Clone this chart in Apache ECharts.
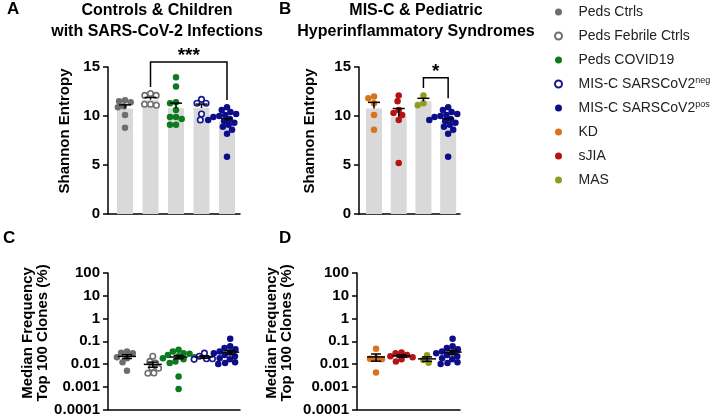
<!DOCTYPE html>
<html>
<head>
<meta charset="utf-8">
<script src="https://cdn.jsdelivr.net/npm/echarts@6/dist/echarts.min.js"></script>
<style>
  html, body { margin: 0; padding: 0; background: #fff; }
  #chart { width: 711px; height: 417px; }
</style>
</head>
<body>
<div id="chart"></div>
<script>
// ---------------- DATA ----------------
const groupNames = ['Peds Ctrls', 'Peds Febrile Ctrls', 'Peds COVID19', 'MIS-C SARSCoV2neg', 'MIS-C SARSCoV2pos', 'KD', 'sJIA', 'MAS'];

// Shannon entropy (panels A, B)
const pedsCtrlsSE   = [11.6, 11.5, 11.4, 11.0, 10.9, 10.1, 8.8];
const febrileSE     = [12.3, 12.1, 12.1, 11.2, 11.2, 11.1];
const covidSE       = [13.95, 13.0, 11.4, 11.3, 10.6, 9.9, 9.9, 9.7, 9.1, 9.1];
const miscNegSE     = [11.7, 11.3, 11.3, 10.2, 9.6];
const miscPosSE     = [10.9, 10.6, 10.4, 10.2, 10.1, 10.0, 9.9, 9.8, 9.7, 9.6, 9.5, 9.3, 9.1, 8.9, 8.6, 8.2, 5.85];
const kdSE          = [12.0, 11.8, 11.3, 10.1, 8.6];
const sjiaSE        = [12.1, 11.5, 10.6, 10.3, 10.1, 9.6, 5.2];
const masSE         = [12.1, 11.3, 11.1];

// Median frequency of top 100 clones, % (panels C, D)
const pedsCtrlsMF   = [0.035, 0.031, 0.030, 0.020, 0.018, 0.012, 0.005];
const febrileMF     = [0.022, 0.013, 0.011, 0.007, 0.0065, 0.004, 0.0039];
const covidMF       = [0.042, 0.035, 0.030, 0.028, 0.025, 0.022, 0.020, 0.018, 0.016, 0.013, 0.011, 0.0028, 0.0008];
const miscNegMF     = [0.030, 0.022, 0.017, 0.017, 0.016];
const miscPosMF     = [0.13, 0.06, 0.05, 0.045, 0.04, 0.035, 0.032, 0.03, 0.028, 0.025, 0.022, 0.02, 0.018, 0.016, 0.014, 0.012, 0.011, 0.010];
const kdMF          = [0.047, 0.018, 0.017, 0.016, 0.0042];
const sjiaMF        = [0.032, 0.030, 0.025, 0.022, 0.020, 0.016, 0.013];
const masMF         = [0.024, 0.015, 0.0114];

const entropyTicks = [0, 5, 10, 15];
const freqTickLabels = ['0.0001', '0.001', '0.01', '0.1', '1', '10', '100'];

// significance brackets: [fromGroupPos, toGroupPos, top, leftBottom, rightBottom]
const bracketA = [2, 5, 15.5, 12.96, 11.63];
const bracketB = [3, 4, 13.9, 12.86, 11.8];
const starsA = '***';
const starsB = '*';

// ---------------- STYLE ----------------
const FONT = '"Liberation Sans", Arial, Helvetica, sans-serif';
const styles = {
  'Peds Ctrls':         { color: '#6e6e6e', open: false },
  'Peds Febrile Ctrls': { color: '#6e6e6e', open: true },
  'Peds COVID19':       { color: '#0d7a1f', open: false },
  'MIS-C SARSCoV2neg':  { color: '#16168f', open: true },
  'MIS-C SARSCoV2pos':  { color: '#0d0d8a', open: false },
  'KD':                 { color: '#d9741b', open: false },
  'sJIA':               { color: '#b51218', open: false },
  'MAS':                { color: '#8f9c20', open: false }
};

const panels = [
  { grid: { left: 108, top: 67, width: 132, height: 147 }, xMin: 0.333, xMax: 5.51, log: false,
    groups: [['Peds Ctrls', pedsCtrlsSE], ['Peds Febrile Ctrls', febrileSE], ['Peds COVID19', covidSE], ['MIS-C SARSCoV2neg', miscNegSE], ['MIS-C SARSCoV2pos', miscPosSE]] },
  { grid: { left: 359, top: 67, width: 101, height: 147 }, xMin: 0.393, xMax: 4.48, log: false,
    groups: [['KD', kdSE], ['sJIA', sjiaSE], ['MAS', masSE], ['MIS-C SARSCoV2pos', miscPosSE]] },
  { grid: { left: 108, top: 273, width: 132, height: 137 }, xMin: 0.264, xMax: 5.38, log: true,
    groups: [['Peds Ctrls', pedsCtrlsMF], ['Peds Febrile Ctrls', febrileMF], ['Peds COVID19', covidMF], ['MIS-C SARSCoV2neg', miscNegMF], ['MIS-C SARSCoV2pos', miscPosMF]] },
  { grid: { left: 357, top: 273, width: 103, height: 137 }, xMin: 0.255, xMax: 4.29, log: true,
    groups: [['KD', kdMF], ['sJIA', sjiaMF], ['MAS', masMF], ['MIS-C SARSCoV2pos', miscPosMF]] }
];

function mean(a) { return a.reduce((s, v) => s + v, 0) / a.length; }
function sem(a) {
  const m = mean(a);
  const sd = Math.sqrt(a.reduce((s, v) => s + (v - m) * (v - m), 0) / (a.length - 1));
  return sd / Math.sqrt(a.length);
}

// beeswarm layout: horizontal offsets (in pixels) so dots don't overlap too much
function swarm(vals, pxPerUnit, log, D) {
  const order = vals.map((v, i) => i).sort((a, b) => vals[b] - vals[a]);
  const placed = [];
  const out = new Array(vals.length);
  for (const i of order) {
    const y = (log ? Math.log10(vals[i]) : vals[i]) * pxPerUnit;
    const cands = [0];
    for (const p of placed) {
      const dy = Math.abs(p.y - y);
      if (dy < D) { const dx = Math.sqrt(D * D - dy * dy); cands.push(p.x + dx, p.x - dx); }
    }
    cands.sort((a, b) => Math.abs(a) - Math.abs(b) || a - b);
    let xx = 0;
    for (const c of cands) {
      if (placed.every(p => (p.x - c) * (p.x - c) + (p.y - y) * (p.y - y) >= D * D - 1e-6)) { xx = c; break; }
    }
    placed.push({ x: xx, y: y });
    out[i] = xx;
  }
  return out;
}

const grids = [], xAxes = [], yAxes = [], series = [];

panels.forEach((P, pi) => {
  grids.push(P.grid);
  xAxes.push({
    gridIndex: pi, type: 'value', min: P.xMin, max: P.xMax,
    axisLine: { show: true, onZero: false, lineStyle: { color: '#000', width: 1.5 } },
    axisTick: { show: false }, axisLabel: { show: false }, splitLine: { show: false }
  });
  if (!P.log) {
    yAxes.push({
      gridIndex: pi, type: 'value', min: entropyTicks[0], max: entropyTicks[entropyTicks.length - 1], interval: 5,
      axisLine: { show: true, lineStyle: { color: '#000', width: 1.5 } },
      axisTick: { show: true, length: 5, lineStyle: { color: '#000', width: 1.5 } },
      axisLabel: { color: '#000', fontFamily: FONT, fontWeight: 'bold', fontSize: 15, margin: 8 },
      splitLine: { show: false }
    });
  } else {
    yAxes.push({
      gridIndex: pi, type: 'log', logBase: 10, min: 0.0001, max: 100, interval: 1,
      axisLine: { show: true, lineStyle: { color: '#000', width: 1.5 } },
      axisTick: { show: true, length: 5, lineStyle: { color: '#000', width: 1.5 } },
      minorTick: { show: false },
      axisLabel: { color: '#000', fontFamily: FONT, fontWeight: 'bold', fontSize: 15, margin: 8,
        formatter: v => freqTickLabels[Math.round(Math.log10(v)) + 4] },
      splitLine: { show: false }
    });
  }

  const pxPerUnit = P.log ? P.grid.height / 6 : P.grid.height / 15;
  const pxPerCat = P.grid.width / (P.xMax - P.xMin);

  if (!P.log) {
    series.push({
      type: 'bar', xAxisIndex: pi, yAxisIndex: pi, barWidth: 16, silent: true, z: 1,
      itemStyle: { color: '#d9d9d9' },
      data: P.groups.map((g, i) => [i + 1, mean(g[1])])
    });
  }

  P.groups.forEach((g, i) => {
    const st = styles[g[0]];
    const offs = swarm(g[1], pxPerUnit, P.log, 6);
    series.push({
      type: 'scatter', name: g[0], xAxisIndex: pi, yAxisIndex: pi, symbol: 'circle',
      symbolSize: st.open ? 5.5 : 6.5, z: 3, silent: true,
      itemStyle: st.open ? { color: '#fff', borderColor: st.color, borderWidth: 1.6, opacity: 1 } : { color: st.color, opacity: 1 },
      data: g[1].map((v, k) => [i + 1 + offs[k] / pxPerCat, v])
    });
  });

  series.push({
    type: 'custom', xAxisIndex: pi, yAxisIndex: pi, z: 5, silent: true,
    data: P.groups.map((g, i) => [i + 1, mean(g[1]), sem(g[1])]),
    renderItem: (params, api) => {
      const x = api.value(0), m = api.value(1), s = api.value(2);
      const ls = { stroke: '#000', lineWidth: 1.5 };
      if (!P.log) {
        const p0 = api.coord([x, m]), p1 = api.coord([x, m + s]);
        return { type: 'group', children: [
          { type: 'line', shape: { x1: p0[0], y1: p0[1], x2: p1[0], y2: p1[1] }, style: ls },
          { type: 'line', shape: { x1: p1[0] - 6, y1: p1[1], x2: p1[0] + 6, y2: p1[1] }, style: ls }
        ] };
      }
      const lo = Math.max(m - s, m * 0.1);
      const p0 = api.coord([x, m]), pu = api.coord([x, m + s]), pl = api.coord([x, lo]);
      return { type: 'group', children: [
        { type: 'line', shape: { x1: p0[0] - 9, y1: p0[1], x2: p0[0] + 9, y2: p0[1] }, style: ls },
        { type: 'line', shape: { x1: pu[0], y1: pu[1], x2: pl[0], y2: pl[1] }, style: ls },
        { type: 'line', shape: { x1: pu[0] - 5, y1: pu[1], x2: pu[0] + 5, y2: pu[1] }, style: ls },
        { type: 'line', shape: { x1: pl[0] - 5, y1: pl[1], x2: pl[0] + 5, y2: pl[1] }, style: ls }
      ] };
    }
  });
});

function bracketSeries(axisIdx, br, stars) {
  return {
    type: 'custom', xAxisIndex: axisIdx, yAxisIndex: axisIdx, z: 6, silent: true, clip: false,
    data: [br],
    renderItem: (params, api) => {
      const pl = api.coord([api.value(0), api.value(2)]);
      const pr = api.coord([api.value(1), api.value(2)]);
      const bl = api.coord([api.value(0), api.value(3)]);
      const brr = api.coord([api.value(1), api.value(4)]);
      return { type: 'group', children: [
        { type: 'polyline', shape: { points: [[pl[0], bl[1]], [pl[0], pl[1]], [pr[0], pr[1]], [pr[0], brr[1]]] },
          style: { stroke: '#000', lineWidth: 1.5, fill: null } },
        { type: 'text', x: (pl[0] + pr[0]) / 2, y: pl[1] - 6,
          style: { text: stars, align: 'center', verticalAlign: 'middle', font: 'bold 19px ' + FONT, fill: '#000' } }
      ] };
    }
  };
}
series.push(bracketSeries(0, bracketA, starsA));
series.push(bracketSeries(1, bracketB, starsB));

const titleStyle = { fontFamily: FONT, fontWeight: 'bold', fontSize: 16, color: '#000', lineHeight: 21 };
const letterStyle = { fontFamily: FONT, fontWeight: 'bold', fontSize: 17, color: '#000' };

const option = {
  animation: false,
  backgroundColor: '#fff',
  title: [
    { text: 'Controls & Children\nwith SARS-CoV-2 Infections', left: 157, top: 0, textAlign: 'center', textStyle: titleStyle, padding: 0 },
    { text: 'MIS-C & Pediatric\nHyperinflammatory Syndromes', left: 416, top: 0, textAlign: 'center', textStyle: titleStyle, padding: 0 },
    { text: 'A', left: 7, top: 1, textStyle: letterStyle, padding: 0 },
    { text: 'B', left: 279, top: 1, textStyle: letterStyle, padding: 0 },
    { text: 'C', left: 3, top: 230, textStyle: letterStyle, padding: 0 },
    { text: 'D', left: 279, top: 230, textStyle: letterStyle, padding: 0 }
  ],
  legend: {
    data: groupNames, orient: 'vertical', left: 554, top: 4, icon: 'circle',
    itemWidth: 8, itemHeight: 7, itemGap: 8, selectedMode: false, padding: 0,
    textStyle: { fontFamily: FONT, fontSize: 14, color: '#222', lineHeight: 16, padding: [0, 0, 0, 11],
      rich: { sup: { fontFamily: FONT, fontSize: 9, color: '#222', verticalAlign: 'top', lineHeight: 16 } } },
    formatter: name => name.replace(/(neg|pos)$/, '{sup|$1}')
  },
  graphic: [
    { type: 'text', x: 65, y: 131, rotation: Math.PI / 2,
      style: { text: 'Shannon Entropy', font: 'bold 15px ' + FONT, fill: '#000', align: 'center', verticalAlign: 'middle' } },
    { type: 'text', x: 310, y: 131, rotation: Math.PI / 2,
      style: { text: 'Shannon Entropy', font: 'bold 15px ' + FONT, fill: '#000', align: 'center', verticalAlign: 'middle' } },
    { type: 'text', x: 35, y: 333, rotation: Math.PI / 2,
      style: { text: 'Median Frequency\nTop 100 Clones (%)', font: 'bold 15px ' + FONT, lineHeight: 15, fill: '#000', align: 'center', verticalAlign: 'middle' } },
    { type: 'text', x: 279, y: 333, rotation: Math.PI / 2,
      style: { text: 'Median Frequency\nTop 100 Clones (%)', font: 'bold 15px ' + FONT, lineHeight: 15, fill: '#000', align: 'center', verticalAlign: 'middle' } }
  ],
  grid: grids,
  xAxis: xAxes,
  yAxis: yAxes,
  series: series
};

const chart = echarts.init(document.getElementById('chart'), null, { renderer: 'canvas' });
chart.setOption(option);
</script>
</body>
</html>
